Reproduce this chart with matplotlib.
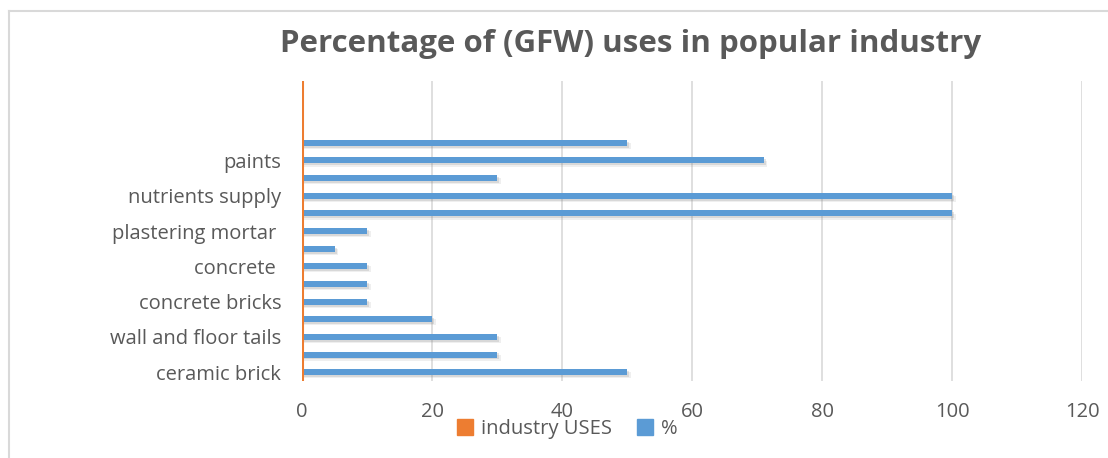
import numpy as np
import matplotlib.pyplot as plt
from matplotlib.patches import Patch
from matplotlib.lines import Line2D

# 17 category slots, Excel only printed every other label
tick_labels = ["ceramic brick", "", "wall and floor tails", "", "concrete bricks", "",
               "concrete ", "", "plastering mortar ", "", "nutrients supply", "",
               "paints", "", "", "", ""]
pct_values = [50, 30, 30, 20, 10, 10, 10, 5, 10, 100, 100, 30, 71, 50, 0, 0, 0]
x_ticks = [0, 20, 40, 60, 80, 100, 120]

blue = "#5B9BD5"
orange = "#ED7D31"
grey_text = "#595959"

plt.rcParams['font.family'] = ['Open Sans', 'DejaVu Sans']

fig = plt.figure(figsize=(11.08, 4.58), dpi=100)
ax = fig.add_axes([302/1108, 1 - 381/458, (1082 - 302)/1108, 300/458])

y = np.arange(len(tick_labels))
vals = np.array(pct_values, dtype=float)
shown = vals > 0

# soft drop shadow under the bars
for dy, dx, a in [(-0.18, 0.6, 0.12), (-0.11, 0.35, 0.2)]:
    ax.barh(y[shown] + dy, vals[shown] + dx, height=0.34, color="#7f7f7f", alpha=a, zorder=2)
ax.barh(y[shown], vals[shown], height=0.34, color=blue, zorder=3)

ax.axvline(0, color=orange, lw=2.2, zorder=4)

ax.set_xlim(0, 120)
ax.set_ylim(-0.5, len(tick_labels) - 0.5)
ax.set_xticks(x_ticks)
ax.set_yticks(y)
ax.set_yticklabels(tick_labels)
ax.tick_params(axis='both', length=0, labelsize=14.5, colors=grey_text)
ax.tick_params(axis='x', pad=15)
ax.tick_params(axis='y', pad=15)
ax.grid(axis='x', color="#D9D9D9", lw=1.2, zorder=0)
ax.set_axisbelow(True)
for s in ax.spines.values():
    s.set_visible(False)

fig.text(0.569, 0.905, "Percentage of (GFW) uses in popular industry", ha='center', va='center',
         fontsize=22.5, fontweight='bold', color=grey_text)

handles = [Patch(color=orange), Patch(color=blue)]
fig.legend(handles, ["industry USES", "%"], loc='center', bbox_to_anchor=(0.512, 0.063),
           ncol=2, frameon=False, fontsize=14.5, labelcolor=grey_text,
           handlelength=0.8, handleheight=0.8, handletextpad=0.4, columnspacing=1.2)

# chart area border (left and top edges visible in the crop)
fig.add_artist(Line2D([9/1108, 9/1108], [0, 1 - 11/458], color="#D9D9D9", lw=1.5))
fig.add_artist(Line2D([9/1108, 1], [1 - 11/458, 1 - 11/458], color="#D9D9D9", lw=1.5))

fig.savefig("out.png", dpi=100)
